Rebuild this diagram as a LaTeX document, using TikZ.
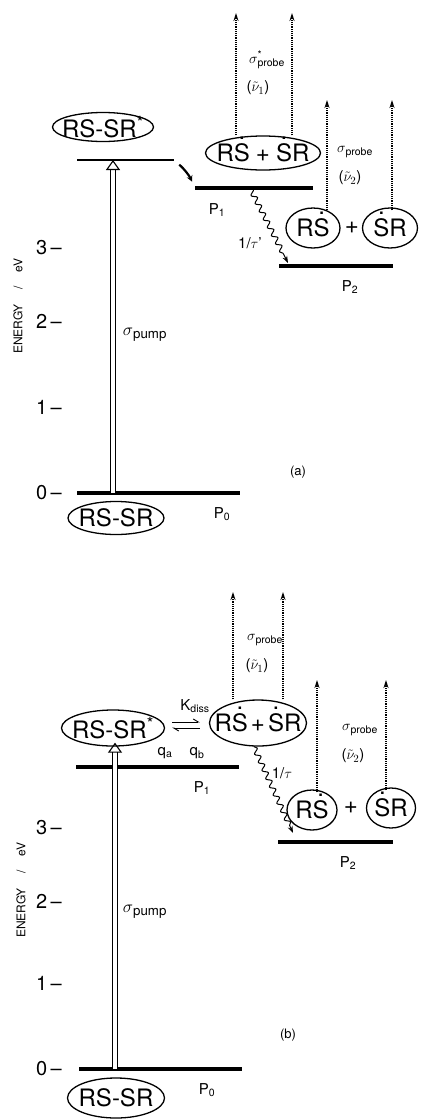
\documentclass[tikz,border=0pt]{standalone}
\usepackage{fontspec}
\setmainfont{TeX Gyre Heros}
\usetikzlibrary{arrows.meta,shapes.geometric,decorations.pathmorphing}
\newcommand{\molsize}{\fontsize{24}{26}\selectfont}
\newcommand{\labsize}{\fontsize{15}{17}\selectfont}
\newcommand{\Sd}{\ooalign{S\cr\hidewidth\raisebox{0.95em}{.}\hidewidth\cr}}
\begin{document}
\begin{tikzpicture}[x=1pt,y=-1pt,
    mol/.style={ellipse,draw,line width=1.3pt,inner xsep=-20pt,inner ysep=-6pt,font=\molsize},
    level/.style={line width=4.2pt},
    probe/.style={densely dotted,line width=1.2pt,-{Stealth[length=8pt,width=5pt]}},
    pump/.style={double,double distance=4.5pt,line width=1.1pt,-{Triangle[open,length=10pt,width=14pt]}},
    relax/.style={decorate,decoration={snake,amplitude=2.5pt,segment length=9pt,post length=8pt},line width=1pt,-{Stealth[length=7pt,width=5pt]}},
    eq/.style={line width=0.9pt,-{Straight Barb[left,length=5pt,width=6pt]}},
    lab/.style={font=\labsize,inner sep=0pt},
    ticklab/.style={anchor=east,font=\fontsize{20}{20}\selectfont,inner sep=0pt},
    axlab/.style={rotate=90,font=\fontsize{12}{12}\selectfont}]
  \useasboundingbox (0,0) rectangle (422,1120);
  % ---- panel (a)
  \node[axlab] (aaxis) at (18,306) {ENERGY\hspace{1.2em}/\hspace{1.2em}eV};
  \foreach \v/\y in {0/493,1/407,2/321,3/248}
    \node[ticklab] (atick\v) at (62,\y) {\v\,--};
  \draw[line width=2.5pt] (77,160) coordinate (aS1l) -- (174,160) coordinate (aS1r);
  \draw[level] (195,188) coordinate (aP1l) -- (313,188) coordinate (aP1r);
  \draw[level] (279,266) coordinate (aP2l) -- (393,266) coordinate (aP2r);
  \draw[level] (77,493) coordinate (aP0l) -- (240,493) coordinate (aP0r);
  \node[mol,minimum width=101pt,minimum height=29pt] (aEx) at (103,127) {RS-SR\textsuperscript{*}};
  \node[mol,minimum width=115pt,minimum height=34pt] (aRad) at (263,153) {R\Sd\hspace{6pt}+\hspace{6pt}\Sd R};
  \node[mol,minimum width=54pt,minimum height=40pt] (aRS) at (313,228) {R\Sd};
  \node[font=\molsize,inner sep=0pt] (aplus) at (352,228) {+};
  \node[mol,minimum width=55pt,minimum height=40pt] (aSR) at (390,228) {\Sd R};
  \node[mol,minimum width=96pt,minimum height=33pt] (aGr) at (116,518) {RS-SR};
  \coordinate (apb) at (113,493);
  \draw[pump] (apb) -- (apb |- aS1r);
  \draw[line width=2.2pt,-{Stealth[length=6pt,width=6pt]},shorten <=7pt,shorten >=7pt]
    (aS1r) to[bend left=12] (aP1l);
  \draw[relax] ([xshift=55pt]aP1l) -- ([xshift=9pt,yshift=3pt]aP2l);
  \foreach \x/\n in {236/1,292/2}{
    \coordinate (aT\n) at (\x,13);
    \draw[probe] (aT\n |- aRad.north) -- (aT\n);
  }
  \coordinate (aT3) at (327,100);
  \coordinate (aT4) at (392,100);
  \draw[probe] ([yshift=-3pt]aT3 |- aRS.north) -- (aT3);
  \draw[probe] ([yshift=-3pt]aT4 |- aSR.north) -- (aT4);
  \node[lab] (asig1) at (267,60) {$\sigma$\rlap{\textsuperscript{*}}\textsubscript{probe}};
  \node[lab] (anu1) at (258,88) {($\tilde{\nu}_1$)};
  \node[lab] (asig2) at (355,152) {$\sigma$\textsubscript{probe}};
  \node[lab] (anu2) at (350,178) {($\tilde{\nu}_2$)};
  \node[lab] (atau) at (250,243) {1/$\tau$'};
  \node[lab] (aP1n) at (217,210) {P\textsubscript{1}};
  \node[lab] (aP2n) at (350,287) {P\textsubscript{2}};
  \node[lab] (aP0n) at (222,514) {P\textsubscript{0}};
  \node[lab,font=\fontsize{19}{20}\selectfont] (apump) at (145,335) {$\sigma$\textsubscript{pump}};
  \node[lab,font=\fontsize{13}{14}\selectfont] (atag) at (298,472) {(a)};
  % ---- panel (b)
  \node[axlab] (baxis) at (21,890) {ENERGY\hspace{1.2em}/\hspace{1.2em}eV};
  \foreach \v/\y in {0/1069,1/983,2/901,3/828}
    \node[ticklab] (btick\v) at (62,\y) {\v\,--};
  \draw[level] (76,767) coordinate (bP1l) -- (239,767) coordinate (bP1r);
  \draw[level] (278,842) coordinate (bP2l) -- (393,842) coordinate (bP2r);
  \draw[level] (79,1069) coordinate (bP0l) -- (242,1069) coordinate (bP0r);
  \node[mol,minimum width=103pt,minimum height=36pt] (bEx) at (113,728) {RS-SR\textsuperscript{*}};
  \node[mol,minimum width=97pt,minimum height=46pt] (bRad) at (258,723) {R\Sd\hspace{3pt}+\hspace{3pt}\Sd R};
  \node[mol,minimum width=50pt,minimum height=40pt] (bRS) at (312,810) {R\Sd};
  \node[font=\molsize,inner sep=0pt] (bplus) at (351,808) {+};
  \node[mol,minimum width=49pt,minimum height=40pt] (bSR) at (391,808) {\Sd R};
  \node[mol,minimum width=97pt,minimum height=40pt] (bGr) at (116,1098) {RS-SR};
  \coordinate (bpb) at (115,1069);
  \draw[pump] (bpb) -- ([yshift=4pt]bpb |- bEx.south);
  \draw[eq,shorten <=7pt,shorten >=9pt] ([yshift=6pt]bEx.east) -- ([yshift=6pt]bEx.east -| bRad.west);
  \draw[eq,shorten <=9pt,shorten >=7pt] (bEx.east -| bRad.west) -- (bEx.east);
  \draw[relax] (bRad.260) -- ([xshift=15pt,yshift=9pt]bP2l);
  \foreach \x/\n in {233/1,283/2}{
    \coordinate (bT\n) at (\x,592);
    \draw[probe] (bT\n |- bRad.north) -- (bT\n);
  }
  \coordinate (bT3) at (317,680);
  \coordinate (bT4) at (386,680);
  \draw[probe] ([yshift=-3pt]bT3 |- bRS.north) -- (bT3);
  \draw[probe] ([yshift=-3pt]bT4 |- bSR.north) -- (bT4);
  \node[lab] (bsig1) at (265,640) {$\sigma$\textsubscript{probe}};
  \node[lab] (bnu1) at (257,666) {($\tilde{\nu}_1$)};
  \node[lab] (bsig2) at (360,730) {$\sigma$\textsubscript{probe}};
  \node[lab] (bnu2) at (353,756) {($\tilde{\nu}_2$)};
  \node[lab] (bK) at (195,706) {K\textsubscript{diss}};
  \node[lab] (bqa) at (165,753) {q\textsubscript{a}};
  \node[lab] (bqb) at (197,753) {q\textsubscript{b}};
  \node[lab] (btau) at (282,773) {1/$\tau$};
  \node[lab] (bP1n) at (202,788) {P\textsubscript{1}};
  \node[lab] (bP2n) at (348,863) {P\textsubscript{2}};
  \node[lab] (bP0n) at (207,1090) {P\textsubscript{0}};
  \node[lab,font=\fontsize{19}{20}\selectfont] (bpump) at (145,912) {$\sigma$\textsubscript{pump}};
  \node[lab,font=\fontsize{13}{14}\selectfont] (btag) at (288,1035) {(b)};
\end{tikzpicture}
\end{document}
